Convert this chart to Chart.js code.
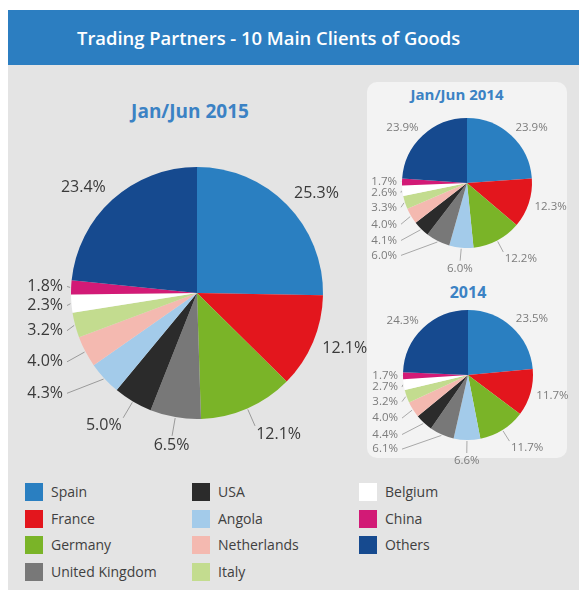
<!DOCTYPE html>
<html lang="en">
<head>
<meta charset="utf-8">
<script src="https://cdn.jsdelivr.net/npm/chart.js@4.4.1/dist/chart.umd.min.js"></script>
<style>
body { margin:0; background:#fff; font-family:"Open Sans", "Noto Sans", sans-serif; }
.abs { position:absolute; }
#page { left:8px; top:10px; width:571px; height:580px; background:#e4e4e4; }
#header { left:8px; top:10px; width:571px; height:55px; background:#2c7ec1; }
#headtext { left:77px; top:10px; height:55px; line-height:55px; color:#fff; font-weight:600; font-size:18.4px; white-space:nowrap; }
#panel { left:367px; top:82px; width:200px; height:376px; background:#f3f3f3; border-radius:10px; }
.title { color:#3b82c4; font-weight:700; text-align:center; white-space:nowrap; }
.leg { font-size:14px; color:#404040; white-space:nowrap; }
.leg span.sw { position:absolute; left:0; top:0; width:18px; height:18px; }
.leg span.tx { position:absolute; left:26px; top:-1px; line-height:20px; }
</style>
</head>
<body>
<div id="page" class="abs"></div>
<div id="header" class="abs"></div>
<div id="headtext" class="abs">Trading Partners - 10 Main Clients of Goods</div>
<div id="panel" class="abs"></div>

<div class="abs title" style="left:90px; top:98px; width:200px; font-size:19px;">Jan/Jun 2015</div>
<div class="abs title" style="left:367px; top:84px; width:180px; font-size:15px;">Jan/Jun 2014</div>
<div class="abs title" style="left:368px; top:281px; width:200px; font-size:16px;">2014</div>

<canvas id="pie2015" class="abs" width="360" height="346" style="left:17px; top:120px;"></canvas>
<canvas id="pieH1" class="abs" width="200" height="180" style="left:367px; top:93px;"></canvas>
<canvas id="pie2014" class="abs" width="200" height="190" style="left:368px; top:280px;"></canvas>

<div id="legend"></div>

<script type="text/javascript">
"use strict";

// legend order, also the slice order of the big pie
var countries = ['Spain', 'France', 'Germany', 'United Kingdom', 'USA', 'Angola',
                 'Netherlands', 'Italy', 'Belgium', 'China', 'Others'];
var countryColors = ['#2a7fc1', '#e3161d', '#7ab428', '#787878', '#2b2b2b', '#a3cbea',
                     '#f4b9b0', '#c3dc8f', '#ffffff', '#d21a76', '#164a8f'];

// Jan/Jun 2015 (%)
var values2015 = [25.3, 12.1, 12.1, 6.5, 5.0, 4.3, 4.0, 3.2, 2.3, 1.8, 23.4];

// Jan/Jun 2014 (%) - small pies keep their own slice order
var labelsH1_2014 = ['Spain', 'France', 'Germany', 'Angola', 'United Kingdom', 'USA',
                     'Netherlands', 'Italy', 'Belgium', 'China', 'Others'];
var valuesH1_2014 = [23.9, 12.3, 12.2, 6.0, 6.0, 4.1, 4.0, 3.3, 2.6, 1.7, 23.9];

// full year 2014 (%)
var labels2014 = ['Spain', 'France', 'Germany', 'Angola', 'United Kingdom', 'USA',
                  'Netherlands', 'Italy', 'Belgium', 'China', 'Others'];
var values2014 = [23.5, 11.7, 11.7, 6.6, 6.1, 4.4, 4.0, 3.2, 2.7, 1.7, 24.3];

function colorOf(name) {
	return countryColors[countries.indexOf(name)];
}

// percent labels outside the pie, small left-side slices go into a column
var pieLabels = {
	id: 'pieLabels',
	afterDatasetsDraw: function(chart, args, o) {
		var ctx = chart.ctx;
		var ds = chart.data.datasets[0];
		var arcs = chart.getDatasetMeta(0).data;
		var col = [], free = [];
		arcs.forEach(function(arc, i) {
			var p = arc.getProps(['x', 'y', 'startAngle', 'endAngle', 'outerRadius'], true);
			var mid = (p.startAngle + p.endAngle) / 2;
			var deg = ((mid + Math.PI / 2) * 180 / Math.PI % 360 + 360) % 360;
			var c = Math.cos(mid), s = Math.sin(mid);
			var v = ds.data[i];
			var line = deg >= 135 && deg <= 300;
			var R = p.outerRadius + (line ? o.lineGap : o.gap);
			var it = {
				text: v.toFixed(1) + '%', c: c, s: s, line: line, cx: p.x, r: p.outerRadius,
				ex: p.x + (p.outerRadius + 1) * c, ey: p.y + (p.outerRadius + 1) * s,
				ax: p.x + R * c, ay: p.y + R * s
			};
			if (v < 10 && deg >= o.colFrom && deg <= 300) col.push(it); else free.push(it);
		});
		ctx.save();
		ctx.font = o.font;
		ctx.fillStyle = o.color;
		ctx.strokeStyle = o.lineColor;
		ctx.lineWidth = 1;
		ctx.textBaseline = 'middle';

		col.sort(function(a, b) { return a.ay - b.ay; });
		for (var k = 1; k < col.length; k++) {
			if (col[k].ay - col[k - 1].ay < o.spacing) col[k].ay = col[k - 1].ay + o.spacing;
		}
		col.forEach(function(it) {
			var tx = it.cx - it.r - o.colGap;
			ctx.beginPath();
			ctx.moveTo(it.ex, it.ey);
			ctx.lineTo(tx + 4, it.ay);
			ctx.stroke();
			ctx.textAlign = 'right';
			ctx.fillText(it.text, tx, it.ay);
		});
		free.forEach(function(it) {
			if (it.line) {
				ctx.beginPath();
				ctx.moveTo(it.ex, it.ey);
				ctx.lineTo(it.ax - it.c * 3, it.ay - it.s * 3);
				ctx.stroke();
			}
			ctx.textAlign = it.c > 0.3 ? 'left' : (it.c < -0.3 ? 'right' : 'center');
			ctx.fillText(it.text, it.ax, it.ay + it.s * o.size * 0.4);
		});
		ctx.restore();
	}
};

function makePie(id, labels, values, pad, lab) {
	return new Chart(document.getElementById(id), {
		type: 'pie',
		data: {
			labels: labels,
			datasets: [{
				data: values,
				backgroundColor: labels.map(colorOf),
				borderWidth: 0,
				hoverOffset: 0
			}]
		},
		options: {
			responsive: false,
			animation: false,
			layout: { padding: pad },
			plugins: {
				legend: { display: false },
				tooltip: { enabled: false },
				pieLabels: lab
			}
		},
		plugins: [pieLabels]
	});
}

var bigLab = { font: '16px "Open Sans"', size: 16, color: '#3a3a3a', lineColor: '#9a9a9a',
               gap: 10, lineGap: 22, colFrom: 220, colGap: 8, spacing: 13 };
var smallLab = { font: '11.5px "Open Sans"', size: 11.5, color: '#7c7c7c', lineColor: '#a8a8a8',
                 gap: 6, lineGap: 16, colFrom: 200, colGap: 5, spacing: 9.5 };

makePie('pie2015', countries, values2015, { top: 47, bottom: 47, left: 54, right: 54 }, bigLab);
makePie('pieH1', labelsH1_2014, valuesH1_2014, { top: 25, bottom: 25, left: 35, right: 35 }, smallLab);
makePie('pie2014', labels2014, values2014, { top: 30, bottom: 30, left: 35, right: 35 }, smallLab);

// legend, column by column, 4 rows each
var legend = document.getElementById('legend');
countries.forEach(function(name, i) {
	var d = document.createElement('div');
	d.className = 'abs leg';
	d.style.left = (25 + Math.floor(i / 4) * 167) + 'px';
	d.style.top = (483 + (i % 4) * 26.7) + 'px';
	d.innerHTML = '<span class="sw"></span><span class="tx"></span>';
	d.firstChild.style.background = countryColors[i];
	d.lastChild.textContent = name;
	legend.appendChild(d);
});
</script>
</body>
</html>
